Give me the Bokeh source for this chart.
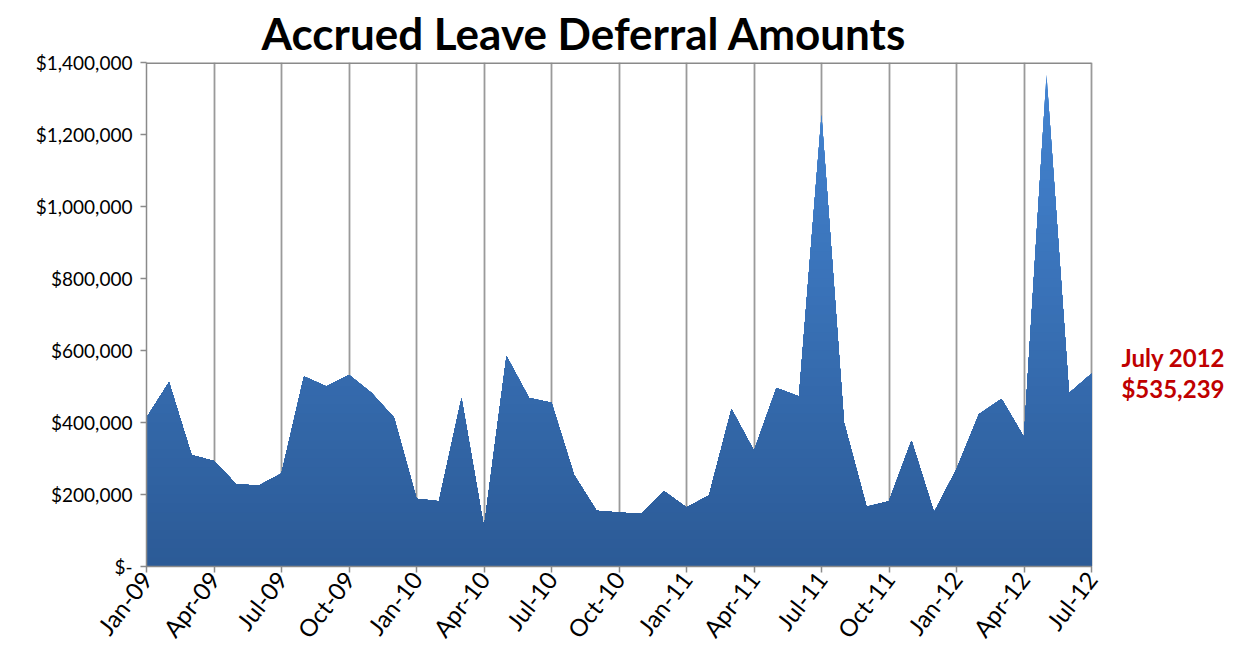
import numpy as np
from bokeh.plotting import figure
from bokeh.models import Range1d, FixedTicker, Label
from bokeh.embed import file_html
from bokeh.resources import INLINE

# ---------------- data ----------------
months = ["Jan-09", "Feb-09", "Mar-09", "Apr-09", "May-09", "Jun-09", "Jul-09", "Aug-09", "Sep-09", "Oct-09", "Nov-09", "Dec-09",
          "Jan-10", "Feb-10", "Mar-10", "Apr-10", "May-10", "Jun-10", "Jul-10", "Aug-10", "Sep-10", "Oct-10", "Nov-10", "Dec-10",
          "Jan-11", "Feb-11", "Mar-11", "Apr-11", "May-11", "Jun-11", "Jul-11", "Aug-11", "Sep-11", "Oct-11", "Nov-11", "Dec-11",
          "Jan-12", "Feb-12", "Mar-12", "Apr-12", "May-12", "Jun-12", "Jul-12"]
amounts = [413000, 512000, 310000, 293000, 228000, 225000, 258000, 528000, 500000, 532000, 482000, 413000,
           188000, 181000, 467000, 108000, 584000, 468000, 455000, 254000, 155000, 150000, 146000, 209000,
           164000, 197000, 437000, 321000, 496000, 472000, 1254000, 399000, 166000, 181000, 349000, 150000,
           270000, 423000, 465000, 359000, 1366000, 481000, 535239]
tick_labels = ["Jan-09", "Apr-09", "Jul-09", "Oct-09", "Jan-10", "Apr-10", "Jul-10", "Oct-10",
               "Jan-11", "Apr-11", "Jul-11", "Oct-11", "Jan-12", "Apr-12", "Jul-12"]
y_ticks = [0, 200000, 400000, 600000, 800000, 1000000, 1200000, 1400000]
y_labels = ["$-", "$200,000", "$400,000", "$600,000", "$800,000", "$1,000,000", "$1,200,000", "$1,400,000"]
note_title = "July 2012"

FONT = "Lato"
xs = list(range(len(months)))
x_last = len(months) - 1
y_max = y_ticks[-1]
tick_pos = [months.index(t) for t in tick_labels]

# layout: plot region 146..1091 px for the data, extra room on the right for the note
W, H = 1225, 656
LEFT, TOP, BOTTOM = 146, 62, 90
data_px = 945.0
frame_px = W - LEFT
x_view_end = x_last * frame_px / data_px

p = figure(width=W, height=H, output_backend="svg", toolbar_location=None,
           x_range=Range1d(0, x_view_end), y_range=Range1d(0, y_max),
           min_border_left=LEFT, min_border_right=0, min_border_top=TOP, min_border_bottom=BOTTOM)
p.background_fill_color = "white"
p.border_fill_color = "white"
p.outline_line_color = None

# title
p.title.text = "Accrued Leave Deferral Amounts"
p.title.text_font = FONT
p.title.text_font_size = "44px"
p.title.text_font_style = "bold"
p.title.text_color = "black"
p.title.align = "left"
p.title.offset = 115
p.title.standoff = 4
p.title.vertical_align = "top"

# gradient area via stacked clipped areas
def clipped(xv, yv, L):
    ox, oy = [], []
    for i in range(len(xv)):
        if i > 0:
            y0, y1 = yv[i - 1], yv[i]
            if (y0 - L) * (y1 - L) < 0:
                t = (L - y0) / (y1 - y0)
                ox.append(xv[i - 1] + t * (xv[i] - xv[i - 1]))
                oy.append(L)
        ox.append(xv[i])
        oy.append(min(yv[i], L))
    return ox, oy

c_bot = np.array([0x2c, 0x5b, 0x97])
c_top = np.array([0x45, 0x86, 0xd4])
levels = np.linspace(0, y_max, 57)[1:][::-1]
step = levels[0] - levels[1]
for L in levels:
    f = (L - step / 2) / y_max
    c = (c_bot + (c_top - c_bot) * f).astype(int)
    col = "#%02x%02x%02x" % tuple(c)
    cx, cy = clipped(xs, amounts, L)
    p.varea(x=cx, y1=[0] * len(cx), y2=cy, fill_color=col, fill_alpha=1.0)

# top border of the plot area
p.line(x=[0, x_last], y=[y_max, y_max], line_color="#8a8a8a", line_width=3)

# axes
p.xaxis.ticker = FixedTicker(ticks=tick_pos)
p.xaxis.major_label_overrides = {pos: lab for pos, lab in zip(tick_pos, tick_labels)}
p.xaxis.major_label_orientation = 0.91
p.xaxis.bounds = (0, x_last)
p.yaxis.ticker = FixedTicker(ticks=y_ticks)
p.yaxis.major_label_overrides = {t: lab for t, lab in zip(y_ticks, y_labels)}
for ax in (p.xaxis, p.yaxis):
    ax.axis_line_color = "#8a8a8a"
    ax.axis_line_width = 1.5
    ax.major_tick_line_color = "#8a8a8a"
    ax.major_tick_line_width = 1.5
    ax.major_tick_out = 6
    ax.major_tick_in = 0
    ax.minor_tick_line_color = None
    ax.major_label_text_font = FONT
    ax.major_label_text_color = "black"
p.yaxis.major_label_text_font_size = "19px"
p.xaxis.major_label_text_font_size = "24px"
p.yaxis.major_label_standoff = 8
p.xaxis.major_label_standoff = 2

p.xgrid.ticker = FixedTicker(ticks=tick_pos)
p.xgrid.grid_line_color = "#9a9a9a"
p.xgrid.grid_line_width = 1.8
p.ygrid.grid_line_color = None

# annotation for the latest value
last = amounts[-1]
note_x = x_last + 1.33
lab1 = Label(x=note_x, y=580000, text=note_title, text_font=FONT,
             text_font_size="24px", text_font_style="bold", text_color="#c00000",
             text_align="left", text_baseline="middle")
lab2 = Label(x=note_x, y=494000, text="${:,}".format(last), text_font=FONT,
             text_font_size="24px", text_font_style="bold", text_color="#c00000",
             text_align="left", text_baseline="middle")
p.add_layout(lab1)
p.add_layout(lab2)

open("out.html", "w").write(file_html(p, INLINE))
